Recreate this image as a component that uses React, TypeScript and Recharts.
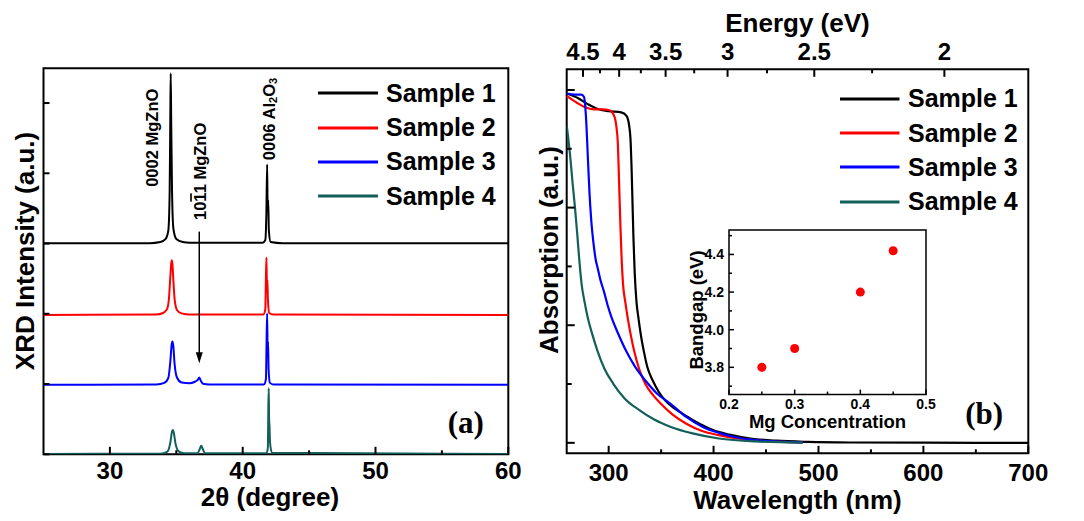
import {
  LineChart,
  Line,
  XAxis,
  YAxis,
  Label,
  Legend,
  ReferenceArea,
  ReferenceDot,
  ReferenceLine,
  ScatterChart,
  Scatter,
} from "recharts"

const FONT = '"Liberation Sans", Arial, sans-serif'
const SERIF = '"Liberation Serif", "Times New Roman", serif'

const sampleNames = ["Sample 1", "Sample 2", "Sample 3", "Sample 4"]
const sampleColors = ["#000000", "#ff0000", "#0000ff", "#135f5b"]

// (a) XRD scans, already offset vertically (arb. units)
const angle1 = [25, 33.0, 33.8, 34.2, 34.4, 34.5, 34.55, 34.58, 34.62, 34.68, 34.78, 35.0, 35.5, 36.0, 41.5, 41.7, 41.78, 41.84, 41.88, 41.92, 41.97, 42.1, 43, 60]
const xrd1 = [54.7, 54.7, 55.0, 55.8, 58, 68, 88, 98.7, 85, 68, 58.5, 55.8, 55.0, 54.8, 54.8, 55.5, 62, 75.1, 63, 65.9, 58, 55, 54.7, 54.7]
const angle2 = [25, 33.5, 34.0, 34.3, 34.45, 34.55, 34.62, 34.66, 34.71, 34.78, 34.88, 35.05, 35.4, 36, 41.55, 41.7, 41.75, 41.79, 41.83, 41.86, 41.9, 42.0, 42.3, 60]
const xrd2 = [36.1, 36.2, 36.6, 37.6, 40.5, 46, 49.5, 50.3, 49.3, 45, 40, 37.4, 36.5, 36.2, 36.2, 37.5, 46, 51.0, 42, 45.2, 40, 36.6, 36.2, 36.1]
const angle3 = [25, 33.5, 34.1, 34.4, 34.55, 34.65, 34.71, 34.77, 34.87, 35.05, 35.4, 36.0, 36.4, 36.6, 36.73, 36.85, 37.0, 37.5, 41.6, 41.75, 41.8, 41.84, 41.88, 41.91, 41.95, 42.05, 42.3, 60]
const xrd3 = [18.0, 18.1, 18.5, 19.8, 24, 28.4, 29.2, 28.2, 23.5, 19.9, 18.6, 18.4, 18.8, 19.2, 19.9, 19.0, 18.3, 18.1, 18.1, 19.5, 30, 36.5, 27, 29.2, 22, 18.5, 18.1, 18.0]
const angle4 = [25, 33.8, 34.3, 34.55, 34.68, 34.74, 34.8, 34.95, 35.2, 35.6, 36.6, 36.78, 36.88, 36.98, 37.15, 41.8, 41.9, 41.93, 41.96, 41.99, 42.02, 42.06, 42.2, 60]
const xrd4 = [0.1, 0.15, 0.6, 3, 5.9, 6.3, 5.8, 2.6, 0.7, 0.3, 0.3, 1.5, 2.2, 1.5, 0.3, 0.3, 2, 12, 17.1, 9, 7.2, 3, 0.4, 0.1]

const xrdTicks = [30, 35, 40, 45, 50, 55, 60]
const xrdLabeled = [30, 40, 50, 60]
const xrdYTicks = [0, 18.2, 36.4, 54.6, 72.8, 91]

// (b) absorption spectra
const wl1 = [260, 271, 280, 289, 300, 312, 317, 319.5, 321, 321.8, 322.7, 323.6, 324.8, 326.5, 328.4, 331, 333.5, 337, 342, 348, 354, 363, 375.5, 387, 400, 415, 435, 460, 490, 530, 600, 700]
const abs1 = [2.97, 2.93, 2.88, 2.84, 2.82, 2.81, 2.78, 2.7, 2.55, 2.35, 2.05, 1.75, 1.45, 1.2, 1.06, 0.9, 0.78, 0.64, 0.53, 0.43, 0.36, 0.29, 0.22, 0.16, 0.107, 0.07, 0.037, 0.018, 0.008, 0.003, 0.001, 0]
const wl2 = [260, 270, 277, 286, 295, 300, 303, 306, 307.5, 308.6, 309.5, 310.2, 311.2, 312.2, 313.7, 315.8, 318.2, 321, 324.3, 329, 335, 342, 350, 361, 374.5, 389, 405, 425, 450, 485]
const abs2 = [2.95, 2.89, 2.855, 2.835, 2.835, 2.83, 2.815, 2.76, 2.68, 2.57, 2.35, 2.13, 1.85, 1.6, 1.35, 1.2, 1.06, 0.92, 0.78, 0.63, 0.5, 0.41, 0.33, 0.24, 0.16, 0.1, 0.065, 0.035, 0.015, 0.004]
const wl3 = [260, 268, 274, 276.5, 277.5, 278.7, 280.2, 281.7, 283.5, 285.5, 287.8, 289.4, 292, 295.4, 299, 303, 309, 316.7, 325, 335, 346, 359.3, 374, 389.7, 405, 420, 445, 485]
const abs3 = [2.97, 2.96, 2.96, 2.94, 2.88, 2.72, 2.42, 2.13, 1.88, 1.7, 1.55, 1.49, 1.39, 1.29, 1.17, 1.06, 0.93, 0.78, 0.65, 0.53, 0.42, 0.33, 0.22, 0.135, 0.085, 0.05, 0.02, 0.004]
const wl4 = [260, 263.4, 265.5, 268, 270, 271.6, 274.2, 277, 280.2, 284.5, 289.4, 296, 304.6, 315, 328.9, 343, 359.3, 380, 405, 440, 485]
const abs4 = [2.7, 2.43, 2.22, 1.99, 1.78, 1.6, 1.35, 1.2, 1.06, 0.92, 0.78, 0.63, 0.5, 0.38, 0.28, 0.2, 0.135, 0.08, 0.037, 0.012, 0.002]

const wlTicks = [300, 350, 400, 450, 500, 550, 600, 650, 700]
const wlLabeled = [300, 400, 500, 600, 700]
const absTicks = [0, 0.5, 1, 1.5, 2, 2.5, 3]
const absMajor = [0, 1, 2, 3]
const energyTicks = [4.5, 4.25, 4, 3.75, 3.5, 3.25, 3, 2.75, 2.5, 2.25, 2]
const energyLabeled = [4.5, 4, 3.5, 3, 2.5, 2]

// inset: bandgap vs Mg concentration
const mgConc = [0.25, 0.3, 0.4, 0.45]
const bandgap = [3.8, 3.9, 4.2, 4.42]
const concTicks = [0.2, 0.25, 0.3, 0.35, 0.4, 0.45, 0.5]
const concLabeled = [0.2, 0.3, 0.4, 0.5]
const gapTicks = [3.7, 3.8, 3.9, 4.0, 4.1, 4.2, 4.3, 4.4, 4.5]
const gapLabeled = [3.8, 4.0, 4.2, 4.4]

const zip = (xs: number[], ys: number[], kx: string, ky: string) =>
  xs.map((x, i) => ({ [kx]: x, [ky]: ys[i] }))

const xrdSeries = [
  zip(angle1, xrd1, "t", "i"),
  zip(angle2, xrd2, "t", "i"),
  zip(angle3, xrd3, "t", "i"),
  zip(angle4, xrd4, "t", "i"),
]
const absSeries = [
  zip(wl1, abs1, "w", "a"),
  zip(wl2, abs2, "w", "a"),
  zip(wl3, abs3, "w", "a"),
  zip(wl4, abs4, "w", "a"),
]
const insetData = zip(mgConc, bandgap, "c", "g")

const hc = 1240 // eV*nm
const has = (list: number[], v: number) => list.some((m) => Math.abs(m - v) < 1e-6)

type Side = "bottom" | "top" | "left"

// Origin-style ticks pointing into the plot
function inwardTick(
  side: Side,
  majors: number[],
  o: { major: number; minor: number; gap?: number; size?: number; width?: number; label?: (v: number) => string | null }
) {
  return (props: any) => {
    const { x, y, payload } = props
    const v: number = payload.value
    const isMajor = has(majors, v)
    const len = isMajor ? o.major : o.minor
    const text = isMajor && o.label ? o.label(v) : null
    const gap = o.gap ?? 16
    let line
    let lx = x
    let ly = y
    let anchor: "middle" | "end" = "middle"
    if (side === "bottom") {
      line = <line x1={x} y1={y} x2={x} y2={y - len} />
      ly = y + gap
    } else if (side === "top") {
      line = <line x1={x} y1={y} x2={x} y2={y + len} />
      ly = y - gap
    } else {
      line = <line x1={x} y1={y} x2={x + len} y2={y} />
      lx = x - gap
      anchor = "end"
    }
    return (
      <g>
        <g stroke="#000" strokeWidth={o.width ?? 2}>{line}</g>
        {text !== null && (
          <text x={lx} y={ly} textAnchor={anchor} dominantBaseline="central" fontFamily={FONT} fontWeight={700} fontSize={o.size ?? 24} fill="#000">
            {text}
          </text>
        )}
      </g>
    )
  }
}

function axisTitle(text: string, dx: number, dy: number, vertical: boolean, size = 26) {
  return (props: any) => {
    const vb = props.viewBox ?? { x: 0, y: 0, width: 0, height: 0 }
    const cx = vb.x + vb.width / 2 + dx
    const cy = vb.y + vb.height / 2 + dy
    return (
      <text
        x={cx}
        y={cy}
        textAnchor="middle"
        dominantBaseline="central"
        transform={vertical ? `rotate(-90 ${cx} ${cy})` : undefined}
        fontFamily={FONT}
        fontWeight={700}
        fontSize={size}
        fill="#000"
      >
        {text}
      </text>
    )
  }
}

function legendBox(lineW: number, gap: number) {
  return (props: any) => (
    <div style={{ fontFamily: FONT, fontWeight: 700, fontSize: 25, color: "#000" }}>
      {(props.payload ?? [])
        .filter((e: any) => e.type !== "none" && e.value !== "a")
        .map((e: any) => (
          <div key={e.value} style={{ display: "flex", alignItems: "center", height: 34.4, whiteSpace: "nowrap" }}>
            <svg width={lineW} height={6} style={{ display: "block" }}>
              <line x1={0} x2={lineW} y1={3} y2={3} stroke={e.color} strokeWidth={3} />
            </svg>
            <span style={{ marginLeft: gap, lineHeight: 1 }}>{e.value}</span>
          </div>
        ))}
    </div>
  )
}

const rotatedNote = (content: React.ReactNode) => (p: any) => (
  <text
    x={p.cx}
    y={p.cy}
    transform={`rotate(-90 ${p.cx} ${p.cy})`}
    textAnchor="start"
    dominantBaseline="central"
    fontFamily={FONT}
    fontWeight={700}
    fontSize={16.5}
    fill="#000"
  >
    {content}
  </text>
)

const panelTag = (tag: string) => (p: any) => (
  <text x={p.cx} y={p.cy} textAnchor="middle" fontFamily={SERIF} fontWeight={700} fontSize={31} fill="#000">
    {tag}
  </text>
)

const arrowShape = (p: any) => {
  const { x1, y1, x2, y2 } = p
  return (
    <g>
      <line x1={x1} y1={y1} x2={x2} y2={y2 - 8} stroke="#000" strokeWidth={1.5} />
      <polygon points={`${x2 - 3.5},${y2 - 11} ${x2 + 3.5},${y2 - 11} ${x2},${y2}`} fill="#000" />
    </g>
  )
}

function XrdPanel() {
  return (
    <LineChart width={540} height={521} margin={{ top: 68.3, right: 31.7, bottom: 56.7, left: 33.5 }}>
      <XAxis
        dataKey="t"
        type="number"
        domain={[25, 60]}
        allowDataOverflow
        ticks={xrdTicks}
        interval={0}
        height={10}
        tickSize={0}
        tickMargin={0}
        axisLine={false}
        tickLine={false}
        tick={inwardTick("bottom", xrdLabeled, { major: 7.5, minor: 4, gap: 16, label: (v) => String(v) })}
      >
        <Label content={axisTitle("2θ (degree)", -6, 37.4, false)} />
      </XAxis>
      <YAxis
        type="number"
        domain={[0, 100]}
        allowDataOverflow
        ticks={xrdYTicks}
        interval={0}
        width={10}
        tickSize={0}
        tickMargin={0}
        axisLine={false}
        tickLine={false}
        tick={inwardTick("left", xrdYTicks, { major: 6, minor: 6 })}
      >
        <Label content={axisTitle("XRD Intensity (a.u.)", -13.5, -10.3, true)} />
      </YAxis>
      <ReferenceArea x1={25} x2={60} y1={0} y2={100} fill="none" stroke="#000" strokeWidth={2} />
      {xrdSeries.map((d, i) => (
        <Line
          key={sampleNames[i]}
          data={d}
          dataKey="i"
          name={sampleNames[i]}
          type="monotone"
          stroke={sampleColors[i]}
          strokeWidth={2}
          dot={false}
          activeDot={false}
          isAnimationActive={false}
        />
      ))}
      <ReferenceDot x={33.15} y={69.3} r={0} shape={rotatedNote("0002 MgZnO")} />
      <ReferenceDot
        x={36.8}
        y={60.7}
        r={0}
        shape={rotatedNote(
          <>
            10<tspan textDecoration="overline">1</tspan>1 MgZnO
          </>
        )}
      />
      <ReferenceDot
        x={42.0}
        y={76.2}
        r={0}
        shape={rotatedNote(
          <>
            0006 Al<tspan fontSize={11} dy={4}>2</tspan>
            <tspan dy={-4}>O</tspan>
            <tspan fontSize={11} dy={4}>3</tspan>
          </>
        )}
      />
      <ReferenceLine segment={[{ x: 36.73, y: 57.7 }, { x: 36.73, y: 23.6 }]} shape={arrowShape} />
      <ReferenceDot x={56.8} y={5.5} r={0} shape={panelTag("(a)")} />
      <Legend
        layout="vertical"
        align="center"
        verticalAlign="middle"
        content={legendBox(60, 8)}
        wrapperStyle={{ left: 318, top: 76, width: "auto" }}
      />
    </LineChart>
  )
}

function AbsorptionPanel() {
  return (
    <LineChart width={554} height={521} margin={{ top: 59.3, right: 55.7, bottom: 57.7, left: 26.7 }}>
      <XAxis
        dataKey="w"
        type="number"
        domain={[260, 700]}
        allowDataOverflow
        ticks={wlTicks}
        interval={0}
        height={10}
        tickSize={0}
        tickMargin={0}
        axisLine={false}
        tickLine={false}
        tick={inwardTick("bottom", wlLabeled, { major: 7.5, minor: 4, gap: 19.5, label: (v) => String(v) })}
      >
        <Label content={axisTitle("Wavelength (nm)", 0, 41.7, false)} />
      </XAxis>
      <XAxis
        xAxisId="top"
        dataKey="w"
        orientation="top"
        type="number"
        domain={[260, 700]}
        allowDataOverflow
        ticks={energyTicks.map((e) => hc / e)}
        interval={0}
        height={10}
        tickSize={0}
        tickMargin={0}
        axisLine={false}
        tickLine={false}
        tick={inwardTick("top", energyLabeled.map((e) => hc / e), {
          major: 7.5,
          minor: 4,
          gap: 17.6,
          label: (v) => String(Math.round((hc / v) * 100) / 100),
        })}
      >
        <Label content={axisTitle("Energy (eV)", 0, -41, false)} />
      </XAxis>
      <YAxis
        type="number"
        domain={[-0.089, 3.176]}
        allowDataOverflow
        ticks={absTicks}
        interval={0}
        width={10}
        tickSize={0}
        tickMargin={0}
        axisLine={false}
        tickLine={false}
        tick={inwardTick("left", absMajor, { major: 8, minor: 5 })}
      >
        <Label content={axisTitle("Absorption (a.u.)", -12.7, -11.3, true)} />
      </YAxis>
      <ReferenceArea x1={260} x2={700} y1={-0.089} y2={3.176} fill="none" stroke="#000" strokeWidth={2} />
      {absSeries.map((d, i) => (
        <Line
          key={sampleNames[i]}
          data={d}
          dataKey="a"
          name={sampleNames[i]}
          type="monotone"
          stroke={sampleColors[i]}
          strokeWidth={2.2}
          dot={false}
          activeDot={false}
          isAnimationActive={false}
        />
      ))}
      {/* same spectrum on the energy axis so that axis gets a scale; not drawn */}
      <Line
        xAxisId="top"
        data={absSeries[0]}
        dataKey="a"
        stroke="none"
        dot={false}
        activeDot={false}
        legendType="none"
        isAnimationActive={false}
      />
      <ReferenceDot x={657.9} y={0.16} r={0} shape={panelTag("(b)")} />
      <Legend
        layout="vertical"
        align="center"
        verticalAlign="middle"
        content={legendBox(59.5, 8.5)}
        wrapperStyle={{ left: 310, top: 81.5, width: "auto" }}
      />
    </LineChart>
  )
}

function BandgapInset() {
  return (
    <ScatterChart width={260} height={230} margin={{ top: 10, right: 14, bottom: 45.4, left: 39 }}>
      <XAxis
        dataKey="c"
        type="number"
        domain={[0.2, 0.5]}
        allowDataOverflow
        ticks={concTicks}
        interval={0}
        height={10}
        tickSize={0}
        tickMargin={0}
        axisLine={false}
        tickLine={false}
        tick={inwardTick("bottom", concLabeled, { major: 5, minor: 3, gap: 9, size: 14, width: 1.5, label: (v) => String(v) })}
      >
        <Label content={axisTitle("Mg Concentration", 0, 22, false, 18.5)} />
      </XAxis>
      <YAxis
        dataKey="g"
        type="number"
        domain={[3.655, 4.53]}
        allowDataOverflow
        ticks={gapTicks}
        interval={0}
        width={10}
        tickSize={0}
        tickMargin={0}
        axisLine={false}
        tickLine={false}
        tick={inwardTick("left", gapLabeled, { major: 5, minor: 3, gap: 5, size: 14, width: 1.5, label: (v) => v.toFixed(1) })}
      >
        <Label content={axisTitle("Bandgap (eV)", -28, -2.3, true, 18.5)} />
      </YAxis>
      <ReferenceArea x1={0.2} x2={0.5} y1={3.655} y2={4.53} fill="none" stroke="#000" strokeWidth={1.5} />
      <Scatter data={insetData} fill="#ff0000" isAnimationActive={false} />
    </ScatterChart>
  )
}

export default function App() {
  return (
    <div style={{ position: "absolute", left: 0, top: 0, width: 1084, height: 521, background: "#fff", overflow: "hidden" }}>
      <div style={{ position: "absolute", left: 0, top: 0 }}>
        <XrdPanel />
      </div>
      <div style={{ position: "absolute", left: 530, top: 0 }}>
        <AbsorptionPanel />
      </div>
      <div style={{ position: "absolute", left: 680, top: 220 }}>
        <BandgapInset />
      </div>
    </div>
  )
}
